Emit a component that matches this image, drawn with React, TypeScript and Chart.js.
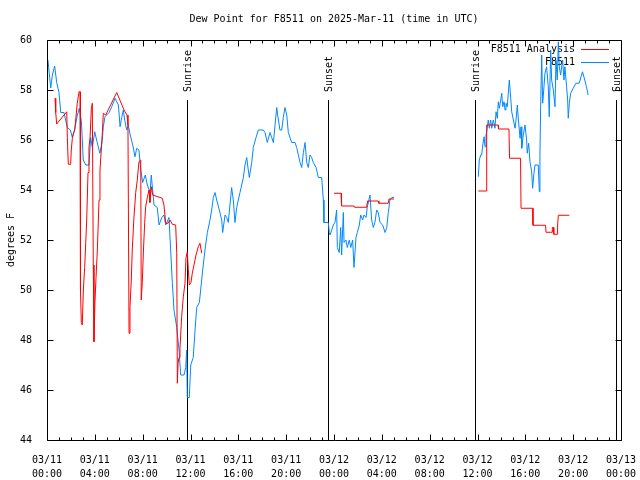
import React, { useEffect, useRef } from 'react';
import { Chart, registerables } from 'chart.js';

Chart.register(...registerables);

const FONT = '"DejaVu Sans Mono", monospace';

const titleText = 'Dew Point for F8511 on 2025-Mar-11 (time in UTC)';
const yAxisLabel = 'degrees F';
const seriesNames = ['F8511 Analysis', 'F8511'];
const seriesColors = ['#ff0000', '#0088ff'];

const xTickDates = ['03/11', '03/11', '03/11', '03/11', '03/11', '03/11', '03/12', '03/12', '03/12', '03/12', '03/12', '03/12', '03/13'];
const xTickTimes = ['00:00', '04:00', '08:00', '12:00', '16:00', '20:00', '00:00', '04:00', '08:00', '12:00', '16:00', '20:00', '00:00'];

const sunEventHours = [11.7, 23.54, 35.79, 47.6];
const sunEventLabels = ['Sunrise', 'Sunset', 'Sunrise', 'Sunset'];

// hours since 03/11 00:00 UTC ; null = gap
const analysisHours = [
  0.67, 0.73, 0.81, 1.65, 1.70, 1.78, 1.98, 2.03, 2.12, 2.20, 2.32, 2.40, 2.53, 2.68, 2.76, 2.80, 2.87, 2.95,
  3.04, 3.15, 3.24, 3.32, 3.43, 3.51, 3.60, 3.71, 3.79, 3.87, 3.93, 4.01, 4.10, 4.21, 4.35, 4.43, 4.54, 4.63,
  4.71, 4.91, 5.83, 6.44, 6.69, 6.77, 6.86, 6.94, 7.05, 7.13, 7.27, 7.42, 7.55, 7.69, 7.84, 7.88, 7.97, 8.05,
  8.17, 8.25, 8.39, 8.53, 8.61, 8.72, 8.84, 9.64, 9.78, 9.93, 10.12, 10.29, 10.48, 10.76, 10.85, 10.90, 10.96,
  11.04, 11.12, 11.26, 11.40, 11.54, 11.62, 11.73, 11.81, 11.90, 12.04, 12.15, 12.29, 12.46, 12.65, 12.79, 12.94,
  18.0,
  24.0, 24.59, 24.63, 25.67, 25.71, 26.74, 26.76, 26.80, 27.71, 27.75, 28.54, 28.60, 29.02,
  32.5,
  36.07, 36.73, 36.77, 37.72, 37.76, 38.63, 38.68, 39.60, 39.64, 40.62, 40.64, 41.69, 41.73, 42.23, 42.26,
  42.36, 42.38, 42.67, 42.70, 42.76, 43.68,
];
const analysisValues = [
  57.67, 57.1, 56.64, 57.13, 56.1, 55.03, 55.03, 55.6, 56.07, 56.27, 56.4, 56.8, 57.47, 57.93, 57.93, 50.0, 48.7, 48.6,
  50.0, 50.9, 51.9, 52.8, 54.7, 55.7, 56.1, 57.27, 57.47, 51.0, 47.93, 49.5, 50.5, 51.6, 53.6, 54.8, 55.6, 56.3,
  57.07, 57.0, 57.9, 57.2, 57.0, 56.6, 48.27, 49.33, 50.4, 51.6, 52.9, 53.9, 54.4, 55.13, 55.2, 49.6, 50.3, 51.4,
  52.7, 53.33, 53.7, 54.0, 53.5, 54.13, 53.8, 53.67, 53.4, 52.67, 52.67, 52.8, 52.63, 52.6, 51.5, 46.27, 47.07,
  47.3, 47.67, 48.93, 49.73, 50.27, 51.27, 51.53, 50.87, 50.2, 50.3, 50.67, 51.0, 51.4, 51.73, 51.87, 51.47,
  null,
  53.87, 53.87, 53.36, 53.36, 53.31, 53.31, 53.47, 53.56, 53.56, 53.47, 53.47, 53.64, 53.64,
  null,
  53.96, 53.96, 56.6, 56.6, 56.44, 56.44, 55.27, 55.27, 53.27, 53.27, 52.59, 52.59, 52.31, 52.31, 52.5,
  52.5, 52.23, 52.23, 52.6, 52.99, 52.99,
];

const obsHours = [
  0.08, 0.31, 0.45, 0.64, 0.81, 1.0, 1.15, 1.42, 1.70, 1.95, 2.12, 2.26, 2.54, 2.70, 2.88, 3.03, 3.24, 3.51,
  3.65, 3.79, 3.99, 4.2, 4.42, 4.6, 4.71, 4.85, 5.2, 5.41, 5.69, 5.97, 6.11, 6.25, 6.38, 6.5, 6.66, 6.8, 6.96,
  7.17, 7.36, 7.5, 7.69, 7.84, 8.0, 8.22, 8.39, 8.62, 8.72, 8.95, 9.22, 9.37, 9.6, 9.78, 9.93, 10.2, 10.34,
  10.48, 10.62, 10.85, 11.04, 11.18, 11.46, 11.6, 11.68, 11.73, 11.9, 12.02, 12.23, 12.38, 12.52, 12.74, 12.85,
  13.02, 13.21, 13.41, 13.63, 13.77, 13.91, 14.05, 14.19, 14.41, 14.61, 14.69, 14.89, 15.03, 15.16, 15.3,
  15.44, 15.58, 15.72, 15.86, 16.0, 16.14, 16.42, 16.56, 16.7, 16.83, 16.92, 17.12, 17.25, 17.48, 17.67,
  18.09, 18.23, 18.42, 18.65, 18.79, 18.93, 19.07, 19.21, 19.29, 19.48, 19.63, 19.76, 19.9, 20.05, 20.18,
  20.46, 20.74, 20.88, 21.16, 21.3, 21.44, 21.58, 21.72, 21.85, 21.99, 22.13, 22.27, 22.5, 22.69, 22.97,
  23.11, 23.16, 23.52, 23.61, 23.67, 23.81, 23.94, 24.08, 24.22, 24.28, 24.44, 24.56, 24.64, 24.78, 24.84,
  25.0, 25.11, 25.28, 25.4, 25.56, 25.67, 25.84, 25.95, 26.12, 26.23, 26.4, 26.51, 26.68, 26.78, 27.01,
  27.15, 27.29, 27.42, 27.57, 27.7, 27.85, 28.07, 28.27, 28.41, 28.54, 28.68, 28.83, 29.02,
  32.5,
  36.07, 36.15, 36.27, 36.35, 36.44, 36.55, 36.63, 36.71, 36.77, 36.9, 36.99, 37.1, 37.19, 37.32, 37.46,
  37.55, 37.66, 37.74, 37.83, 37.94, 38.03, 38.11, 38.22, 38.3, 38.38, 38.49, 38.66, 38.78, 38.86, 39.0,
  39.14, 39.22, 39.33, 39.42, 39.56, 39.64, 39.7, 39.83, 39.97, 40.11, 40.16, 40.28, 40.39, 40.53, 40.61,
  40.72, 40.81, 41.08, 41.17, 41.22, 41.28, 41.37, 41.45, 41.56, 41.64, 41.78, 41.92, 42.0, 42.12, 42.2,
  42.34, 42.48, 42.56, 42.67, 42.76, 42.84, 42.95, 43.12, 43.23, 43.31, 43.45, 43.54, 43.59, 43.68, 43.79,
  44.01, 44.22, 44.5, 44.78, 44.97, 45.11, 45.25,
];
const obsValues = [
  59.2, 58.08, 58.6, 58.96, 58.3, 57.9, 57.1, 57.1, 56.5, 56.4, 56.1, 56.3, 57.0, 57.27, 56.73, 55.2, 55.0, 55.0,
  56.1, 55.7, 56.33, 55.9, 55.47, 55.9, 56.53, 56.93, 57.1, 57.33, 57.67, 57.4, 56.53, 56.9, 57.2, 56.8, 56.4, 56.6, 56.2,
  55.8, 55.33, 55.67, 55.6, 54.8, 54.3, 54.6, 54.2, 53.9, 54.6, 53.4, 53.3, 52.6, 52.9, 53.0, 52.6, 52.9, 51.6,
  50.3, 49.2, 48.5, 47.6, 46.6, 46.6, 46.9, 47.6, 45.7, 45.7, 47.0, 47.3, 48.4, 49.3, 49.5, 50.0,
  50.8, 51.6, 52.3, 52.8, 53.2, 53.7, 53.9, 53.6, 53.2, 52.8, 52.3, 53.0, 52.9, 52.7, 53.4,
  54.1, 53.6, 52.7, 53.3, 53.6, 53.9, 54.5, 55.0, 55.3, 54.8, 54.5, 55.1, 55.7, 56.1, 56.4,
  56.4, 56.3, 55.9, 56.3, 56.1, 55.9, 56.6, 57.3, 57.0, 56.4, 56.4, 56.9, 57.3, 57.0, 56.3,
  55.9, 55.9, 55.7, 55.1, 54.9, 55.5, 55.9, 55.1, 54.9, 55.4, 55.3, 55.1, 54.9, 54.5, 54.5,
  53.6, 52.7, 52.7, 52.3, 52.2, 52.4, 52.6, 52.7, 53.2, 51.7, 51.5, 52.5, 51.4, 53.1, 51.9,
  52.0, 51.7, 52.0, 51.7, 52.0, 50.9, 52.1, 52.3, 52.6, 53.0, 52.8, 53.0, 52.9, 53.3, 53.8,
  52.8, 52.5, 52.7, 53.2, 53.1, 52.7, 52.6, 52.3, 52.5, 53.1, 53.6, 53.7, 53.7,
  null,
  54.53, 55.2, 55.4, 55.4, 55.8, 56.13, 55.73, 56.2, 56.33, 56.8, 56.47, 56.8, 56.47, 56.8, 56.47,
  57.13, 56.87, 57.53, 57.27, 57.6, 57.87, 57.33, 57.53, 57.2, 57.47, 57.33, 58.4, 57.67, 57.13, 56.8,
  56.47, 56.8, 57.4, 56.8, 56.07, 56.53, 55.67, 56.2, 56.6, 56.0, 55.47, 55.87, 55.13, 54.73, 54.07,
  54.67, 55.0, 55.0, 53.93, 55.33, 57.33, 59.4, 57.47, 58.13, 58.67, 58.93, 58.13, 56.93, 59.6, 58.4,
  58.0, 57.33, 59.2, 58.4, 59.93, 58.93, 58.6, 59.2, 58.4, 58.93, 58.13, 57.6, 56.87, 57.47, 57.87,
  58.07, 58.27, 58.27, 58.73, 58.4, 58.13, 57.8,
];

const toPoints = (xs: number[], ys: (number | null)[]) => xs.map((x, i) => ({ x, y: ys[i] }));

const gnuplotDecor = {
  id: 'gnuplotDecor',
  beforeDatasetsDraw(chart: any) {
    const { ctx, chartArea, scales } = chart;
    const { left, right, top, bottom } = chartArea;
    const xs = scales.x;
    ctx.save();
    ctx.fillStyle = '#000';
    ctx.strokeStyle = '#000';
    ctx.lineWidth = 1;
    ctx.font = `10px ${FONT}`;

    // title
    ctx.textAlign = 'center';
    ctx.textBaseline = 'middle';
    ctx.fillText(titleText, (left + right) / 2, 19);

    // y axis label
    ctx.save();
    ctx.translate(11, (top + bottom) / 2);
    ctx.rotate(-Math.PI / 2);
    ctx.fillText(yAxisLabel, 0, 0);
    ctx.restore();

    // sunrise / sunset markers
    sunEventHours.forEach((h, i) => {
      const px = Math.round(xs.getPixelForValue(h)) + 0.5;
      ctx.beginPath();
      ctx.moveTo(px, 100);
      ctx.lineTo(px, bottom);
      ctx.stroke();
      ctx.save();
      ctx.translate(px + 1, 92);
      ctx.rotate(-Math.PI / 2);
      ctx.textAlign = 'left';
      ctx.textBaseline = 'middle';
      ctx.fillText(sunEventLabels[i], 0, 0);
      ctx.restore();
    });

    // legend
    const rows = [49, 62];
    seriesNames.forEach((name, i) => {
      ctx.textAlign = 'right';
      ctx.textBaseline = 'middle';
      ctx.fillStyle = '#000';
      ctx.fillText(name, 575, rows[i]);
      ctx.strokeStyle = seriesColors[i];
      ctx.beginPath();
      ctx.moveTo(581, rows[i] + 0.5);
      ctx.lineTo(609, rows[i] + 0.5);
      ctx.stroke();
    });
    ctx.restore();
  },
  afterDatasetsDraw(chart: any) {
    const { ctx, chartArea, scales } = chart;
    const { left, right, top, bottom } = chartArea;
    const xs = scales.x;
    const ys = scales.y;
    ctx.save();
    ctx.strokeStyle = '#000';
    ctx.lineWidth = 1;
    const L = Math.round(left) + 0.5;
    const R = Math.round(right) + 0.5;
    const T = Math.round(top) + 0.5;
    const B = Math.round(bottom) + 0.5;
    ctx.beginPath();
    ctx.rect(L, T, R - L, B - T);
    ctx.stroke();
    ctx.beginPath();
    for (let h = 0; h <= 48; h++) {
      const px = Math.round(xs.getPixelForValue(h)) + 0.5;
      const len = h % 4 === 0 ? 6 : 3;
      ctx.moveTo(px, B);
      ctx.lineTo(px, B - len);
      ctx.moveTo(px, T);
      ctx.lineTo(px, T + len);
    }
    for (let v = 44; v <= 60; v += 2) {
      const py = Math.round(ys.getPixelForValue(v)) + 0.5;
      ctx.moveTo(L, py);
      ctx.lineTo(L + 6, py);
      ctx.moveTo(R, py);
      ctx.lineTo(R - 6, py);
    }
    ctx.stroke();
    ctx.restore();
  },
};

export default function App() {
  const canvasRef = useRef<HTMLCanvasElement | null>(null);

  useEffect(() => {
    if (!canvasRef.current) return;
    const chart = new Chart(canvasRef.current, {
      type: 'line',
      data: {
        datasets: [
          {
            label: seriesNames[0],
            data: toPoints(analysisHours, analysisValues),
            borderColor: seriesColors[0],
            backgroundColor: seriesColors[0],
            borderWidth: 1,
            pointRadius: 0,
            tension: 0,
            spanGaps: false,
          },
          {
            label: seriesNames[1],
            data: toPoints(obsHours, obsValues),
            borderColor: seriesColors[1],
            backgroundColor: seriesColors[1],
            borderWidth: 1,
            pointRadius: 0,
            tension: 0,
            spanGaps: false,
          },
        ],
      },
      options: {
        responsive: false,
        animation: false,
        devicePixelRatio: 1,
        layout: { padding: { top: 40, right: 19, left: 0, bottom: 0 } },
        plugins: {
          legend: { display: false },
          title: { display: false },
          tooltip: { enabled: false },
        },
        scales: {
          x: {
            type: 'linear',
            min: 0,
            max: 48,
            grid: { display: false },
            border: { display: false },
            afterFit: (s: any) => { s.height = 40; s.paddingLeft = 0; s.paddingRight = 0; },
            ticks: {
              stepSize: 4,
              autoSkip: false,
              maxRotation: 0,
              minRotation: 0,
              padding: 6,
              color: '#000',
              font: { family: FONT, size: 10, lineHeight: 1.35 },
              callback: (_v: any, i: number) => [xTickDates[i], xTickTimes[i]],
            },
          },
          y: {
            type: 'linear',
            min: 44,
            max: 60,
            grid: { display: false },
            border: { display: false },
            afterFit: (s: any) => { s.width = 47; s.paddingTop = 0; s.paddingBottom = 0; },
            ticks: {
              stepSize: 2,
              padding: 7,
              color: '#000',
              font: { family: FONT, size: 10 },
            },
          },
        },
      },
      plugins: [gnuplotDecor],
    });
    return () => chart.destroy();
  }, []);

  return (
    <div style={{ position: 'absolute', left: 0, top: 0, width: 640, height: 480, background: '#fff' }}>
      <canvas ref={canvasRef} width={640} height={480} />
    </div>
  );
}
